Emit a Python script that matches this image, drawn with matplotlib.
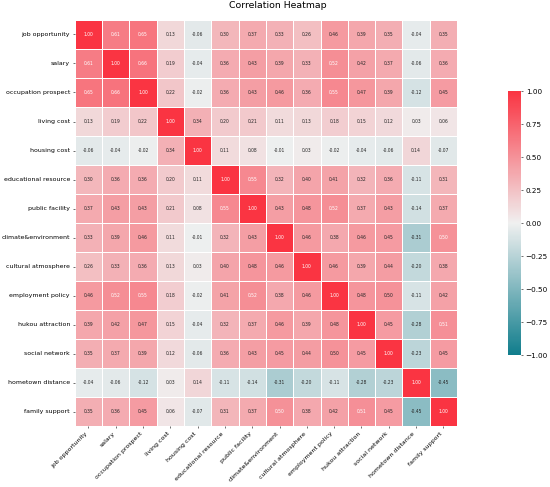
import numpy as np
import pandas as pd
import matplotlib
matplotlib.use("Agg")
import matplotlib.pyplot as plt
from matplotlib.colors import LinearSegmentedColormap
import seaborn as sns

labels = ["job opportunity", "salary", "occupation prospect", "living cost",
          "housing cost", "educational resource", "public facility",
          "climate&environment", "cultural atmosphere", "employment policy",
          "hukou attraction", "social network", "hometown distance", "family support"]

# correlation matrix (rows in label order)
job = [1.00, 0.61, 0.65, 0.13, -0.06, 0.30, 0.37, 0.33, 0.26, 0.46, 0.39, 0.35, -0.04, 0.35]
sal = [0.61, 1.00, 0.66, 0.19, -0.04, 0.36, 0.43, 0.39, 0.33, 0.52, 0.42, 0.37, -0.06, 0.36]
occ = [0.65, 0.66, 1.00, 0.22, -0.02, 0.36, 0.43, 0.46, 0.36, 0.55, 0.47, 0.39, -0.12, 0.45]
liv = [0.13, 0.19, 0.22, 1.00, 0.34, 0.20, 0.21, 0.11, 0.13, 0.18, 0.15, 0.12, 0.03, 0.06]
hou = [-0.06, -0.04, -0.02, 0.34, 1.00, 0.11, 0.08, -0.01, 0.03, -0.02, -0.04, -0.06, 0.14, -0.07]
edu = [0.30, 0.36, 0.36, 0.20, 0.11, 1.00, 0.55, 0.32, 0.40, 0.41, 0.32, 0.36, -0.11, 0.31]
pub = [0.37, 0.43, 0.43, 0.21, 0.08, 0.55, 1.00, 0.43, 0.48, 0.52, 0.37, 0.43, -0.14, 0.37]
cli = [0.33, 0.39, 0.46, 0.11, -0.01, 0.32, 0.43, 1.00, 0.46, 0.38, 0.46, 0.45, -0.31, 0.504]
cul = [0.26, 0.33, 0.36, 0.13, 0.03, 0.40, 0.48, 0.46, 1.00, 0.46, 0.39, 0.44, -0.20, 0.38]
emp = [0.46, 0.52, 0.55, 0.18, -0.02, 0.41, 0.52, 0.38, 0.46, 1.00, 0.48, 0.496, -0.11, 0.42]
huk = [0.39, 0.42, 0.47, 0.15, -0.04, 0.32, 0.37, 0.46, 0.39, 0.48, 1.00, 0.45, -0.28, 0.51]
soc = [0.35, 0.37, 0.39, 0.12, -0.06, 0.36, 0.43, 0.45, 0.44, 0.496, 0.45, 1.00, -0.23, 0.45]
hom = [-0.04, -0.06, -0.12, 0.03, 0.14, -0.11, -0.14, -0.31, -0.20, -0.11, -0.28, -0.23, 1.00, -0.45]
fam = [0.35, 0.36, 0.45, 0.06, -0.07, 0.31, 0.37, 0.504, 0.38, 0.42, 0.51, 0.45, -0.45, 1.00]

corr = pd.DataFrame([job, sal, occ, liv, hou, edu, pub, cli, cul, emp, huk, soc, hom, fam],
                    index=labels, columns=labels)

fig = plt.figure(figsize=(11, 9.74), dpi=50)
ax = fig.add_axes([0.136, 0.125, 0.695, 0.834])
cax = fig.add_axes([0.923, 0.271, 0.024, 0.542])

cmap = LinearSegmentedColormap.from_list("teal_red", ["#107d8c", "#f0f0f0", "#fa3442"])
sns.heatmap(corr, ax=ax, cbar_ax=cax, cmap=cmap, vmin=-1, vmax=1, center=0,
            annot=True, fmt=".2f", annot_kws={"size": 6.5},
            linewidths=0.8, linecolor="white")

# light text on the stronger red cells, dark elsewhere
for txt, v in zip(ax.texts, corr.values.ravel()):
    txt.set_color("white" if v > 0.5 else "#262626")

fig.suptitle("Correlation Heatmap", fontsize=13.5, x=0.505, y=0.997)
ax.set_xticklabels(labels, rotation=45, ha="right", fontsize=9)
ax.set_yticklabels(labels, rotation=0, fontsize=9)
cax.tick_params(labelsize=10.5)

plt.savefig("out.png", dpi=50)
